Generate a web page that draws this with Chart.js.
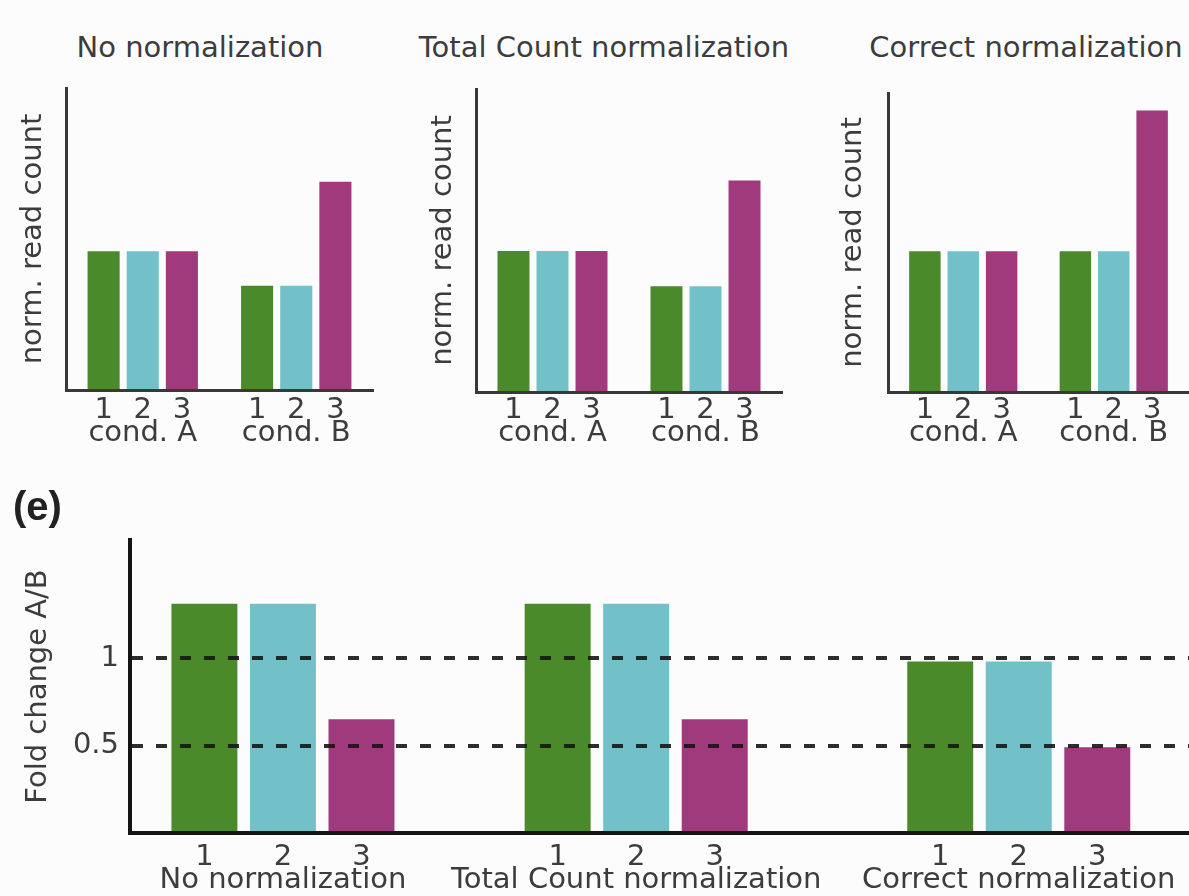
<!DOCTYPE html>
<html>
<head>
<meta charset="utf-8">
<title>Read count normalization and fold change</title>
<script src="https://cdn.jsdelivr.net/npm/chart.js@4.4.1/dist/chart.umd.min.js"></script>
<style>
  html, body { margin: 0; padding: 0; background: #fcfcfc; }
  body {
    position: relative; width: 1189px; height: 896px; overflow: hidden;
    font-family: 'DejaVu Sans', sans-serif; color: #3c3c3c;
  }
  canvas { position: absolute; }
  .panel-title {
    position: absolute; top: 30px; font-size: 29px; line-height: 35px;
    white-space: nowrap; transform: translateX(-50%);
  }
</style>
</head>
<body>
<div class="panel-title" id="title0"></div>
<div class="panel-title" id="title1"></div>
<div class="panel-title" id="title2"></div>
<canvas id="top0" width="400" height="470"></canvas>
<canvas id="top1" width="400" height="470"></canvas>
<canvas id="top2" width="389" height="470"></canvas>
<canvas id="foldChart" width="1189" height="426" style="left:0;top:470px"></canvas>
<script>
// ---------- data ----------
const methods = ['No normalization', 'Total Count normalization', 'Correct normalization'];
const conditions = ['cond. A', 'cond. B'];
const replicates = ['1', '2', '3'];

// normalized read counts, one row per replicate: [cond. A, cond. B]
const noNormCounts = [[4, 3], [4, 3], [4, 6]];
const totalCountCounts = [[4, 3], [4, 3], [4, 6]];
const correctCounts = [[4, 4], [4, 4], [4, 8]];

// fold change A/B per replicate, one value per normalization method
const foldChangeRep1 = [1.31, 1.31, 0.98];
const foldChangeRep2 = [1.31, 1.31, 0.98];
const foldChangeRep3 = [0.65, 0.65, 0.49];
const foldTicks = [0.5, 1];
const foldTickLabels = ['0.5', '1'];

// ---------- styling / layout ----------
const replicateColors = ['#4b8a2b', '#72c0c8', '#a03a7c'];
const textColor = '#3c3c3c';
const fontSize = 29;
const halfLine = fontSize * 1.2 / 2;

Chart.defaults.font.family = "'DejaVu Sans', sans-serif";
Chart.defaults.font.size = fontSize;
Chart.defaults.color = textColor;
Chart.defaults.animation = false;

const topPanels = [
  { counts: noNormCounts,     left: 0,   width: 400, axisLeft: 66, padRight: 27, top: 88, xHeight: 80, yTitleX: 33, yMax: 8.7, titleX: 200, numOffset: 20, tickPad: 25.6 },
  { counts: totalCountCounts, left: 400, width: 400, axisLeft: 76, padRight: 18, top: 89, xHeight: 78, yTitleX: 43, yMax: 8.6, titleX: 604, numOffset: 18, tickPad: 23.6 },
  { counts: correctCounts,    left: 800, width: 389, axisLeft: 88, padRight: 0,  top: 93, xHeight: 78, yTitleX: 53, yMax: 8.5, titleX: 1026, numOffset: 18, tickPad: 23.6 }
];

// positions of the three method groups along the fold-change x axis
const groupSlots = [1, 2, 3.083];

// writes the replicate number under every bar
const replicateNumbers = {
  id: 'replicateNumbers',
  afterDraw(chart, args, opts) {
    const { ctx, chartArea } = chart;
    ctx.save();
    ctx.font = fontSize + "px 'DejaVu Sans', sans-serif";
    ctx.fillStyle = textColor;
    ctx.textAlign = 'center';
    ctx.textBaseline = 'middle';
    chart.data.datasets.forEach((ds, i) => {
      chart.getDatasetMeta(i).data.forEach(bar => {
        ctx.fillText(ds.label, bar.x, chartArea.bottom + opts.offset);
      });
    });
    ctx.restore();
  }
};

// ---------- top panels: normalized read counts ----------
topPanels.forEach((p, i) => {
  const title = document.getElementById('title' + i);
  title.textContent = methods[i];
  title.style.left = p.titleX + 'px';

  const canvas = document.getElementById('top' + i);
  canvas.style.left = p.left + 'px';
  canvas.style.top = '0px';

  new Chart(canvas, {
    type: 'bar',
    data: {
      labels: conditions,
      datasets: replicates.map((r, k) => ({
        label: r,
        data: p.counts[k],
        backgroundColor: replicateColors[k],
        categoryPercentage: 0.765,
        barPercentage: 0.82
      }))
    },
    options: {
      responsive: false,
      layout: { padding: { left: 0, right: p.padRight, top: p.top, bottom: 0 } },
      plugins: {
        legend: { display: false },
        tooltip: { enabled: false },
        replicateNumbers: { offset: p.numOffset }
      },
      scales: {
        x: {
          grid: { display: false, drawTicks: false },
          border: { display: true, width: 3, color: '#383838', z: 1 },
          ticks: { padding: p.tickPad, maxRotation: 0, autoSkip: false },
          afterFit: s => { s.height = p.xHeight; s.paddingLeft = 0; s.paddingRight = 0; }
        },
        y: {
          min: 0,
          max: p.yMax,
          grid: { display: false, drawTicks: false },
          border: { display: true, width: 3, color: '#383838', z: 1 },
          ticks: { display: false },
          title: {
            display: true,
            text: 'norm. read count',
            padding: { top: p.yTitleX - halfLine, bottom: 0 }
          },
          afterFit: s => { s.width = p.axisLeft; }
        }
      }
    },
    plugins: [replicateNumbers]
  });
});

// ---------- bottom panel: fold change A/B ----------
const foldSeries = [foldChangeRep1, foldChangeRep2, foldChangeRep3];

new Chart(document.getElementById('foldChart'), {
  type: 'bar',
  data: {
    datasets: foldSeries.map((vals, k) => ({
      label: replicates[k],
      data: vals.map((v, g) => ({ x: groupSlots[g], y: v })),
      backgroundColor: replicateColors[k],
      categoryPercentage: 0.667,
      barPercentage: 0.84
    }))
  },
  options: {
    responsive: false,
    layout: { padding: { left: 13, right: 0, top: 0, bottom: 0 } },
    plugins: {
      legend: { display: false },
      tooltip: { enabled: false },
      title: {
        display: true,
        text: '(e)',
        align: 'start',
        color: '#222222',
        font: { family: "'Liberation Sans', Arial, sans-serif", size: 40, weight: 'bold' },
        padding: { top: 15, bottom: 7 }
      },
      replicateNumbers: { offset: 24 }
    },
    scales: {
      x: {
        type: 'linear',
        min: 0.567,
        max: 3.565,
        offset: false,
        grid: { display: false, drawTicks: false, offset: false },
        border: { display: true, width: 4, color: '#151515', z: 1 },
        afterBuildTicks: s => { s.ticks = groupSlots.map(v => ({ value: v })); },
        ticks: {
          callback: (v, i) => methods[i],
          padding: 29.6,
          maxRotation: 0,
          minRotation: 0,
          autoSkip: false
        },
        afterFit: s => { s.height = 63; s.paddingLeft = 0; s.paddingRight = 0; }
      },
      y: {
        min: 0,
        max: 1.675,
        afterBuildTicks: s => { s.ticks = foldTicks.map(v => ({ value: v })); },
        grid: { display: true, drawTicks: false, lineWidth: 4, color: 'rgba(22,22,22,0.9)', z: 1 },
        border: { display: true, width: 4, color: '#151515', dash: [11, 13], z: 1 },
        ticks: { padding: 11, callback: (v, i) => foldTickLabels[i] },
        title: {
          display: true,
          text: 'Fold change A/B',
          padding: { top: 38 - 13 - halfLine, bottom: 0 }
        },
        afterFit: s => { s.width = 117; }
      }
    }
  },
  plugins: [replicateNumbers]
});
</script>
</body>
</html>
